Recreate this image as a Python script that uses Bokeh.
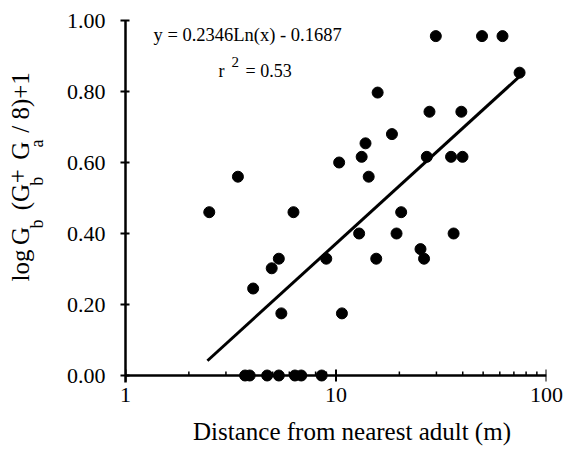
import numpy as np
from bokeh.plotting import figure
from bokeh.layouts import row, column
from bokeh.models import Range1d, FixedTicker, Label, Span, PrintfTickFormatter
from bokeh.embed import file_html
from bokeh.resources import INLINE

# ---------------- data ----------------
distance = [2.50, 3.42, 6.28, 4.04, 4.95, 5.35, 5.50, 8.99, 10.35, 10.67,
            12.88, 13.24, 13.81, 14.30, 15.77, 15.53, 18.44, 19.39, 20.4, 25.2,
            26.2, 27.0, 27.8, 29.8, 35.2, 36.2, 39.9, 39.4, 49.4, 61.8, 74.5,
            3.70, 3.89, 4.71, 5.35, 6.38, 6.84, 8.55]
response = [0.460, 0.560, 0.460, 0.245, 0.302, 0.329, 0.175, 0.329, 0.600, 0.175,
            0.400, 0.616, 0.654, 0.560, 0.797, 0.329, 0.680, 0.400, 0.460, 0.356,
            0.329, 0.616, 0.743, 0.956, 0.616, 0.400, 0.616, 0.743, 0.956, 0.956, 0.853,
            0.0, 0.0, 0.0, 0.0, 0.0, 0.0, 0.0]

fit_a = 0.2346
fit_b = -0.1687
fit_x = [2.45, 74.5]
fit_y = [fit_a * np.log(v) + fit_b for v in fit_x]

x_major = [1, 10, 100]
x_minor = [2, 3, 4, 5, 6, 7, 8, 9, 20, 30, 40, 50, 60, 70, 80, 90]
x_tick_labels = ["1", "10", "100"]
y_ticks = [0.0, 0.2, 0.4, 0.6, 0.8, 1.0]
y_tick_labels = ["0.00", "0.20", "0.40", "0.60", "0.80", "1.00"]

eq_text = "y = 0.2346Ln(x) - 0.1687"
x_title = "Distance from nearest adult (m)"

# ---------------- layout ----------------
TOTAL_W, TOTAL_H = 563, 446
LW = 60                # strip holding the y title
XT_H = 30              # strip holding the x title
PH = TOTAL_H - XT_H    # main figure height
W = TOTAL_W - LW       # main figure width
FL, FR = 125, 546      # frame left/right in picture pixels
BT = 20
PLOT_H = 355           # pixels for y from 0 to 1
EXT = 7                # frame extension below y = 0
BB = PH - BT - PLOT_H - EXT
FONT = "Liberation Serif"
Y0 = BT + PLOT_H
SHIFT = 0.36           # label anchor sits this many em above the baseline


def dx(px):
    return 10 ** (2.0 * (px - FL) / (FR - FL))


def dy(py):
    return (Y0 - py) / PLOT_H


def fpx(size):
    return float(size.replace("px", ""))


p = figure(width=W, height=PH, x_axis_type="log",
           x_range=Range1d(1, 100), y_range=Range1d(-EXT / PLOT_H, 1.0),
           output_backend="svg", toolbar_location=None,
           min_border_left=FL - LW, min_border_right=TOTAL_W - FR,
           min_border_top=BT, min_border_bottom=BB)
p.grid.visible = False
p.outline_line_color = None
p.background_fill_color = "white"
p.border_fill_color = "white"

# y axis
ya = p.yaxis[0]
ya.ticker = FixedTicker(ticks=y_ticks)
ya.formatter = PrintfTickFormatter(format="%.2f")
ya.major_label_overrides = {t: l for t, l in zip(y_ticks, y_tick_labels)}
ya.axis_line_width = 2.5
ya.axis_line_color = "black"
ya.major_tick_line_width = 2
ya.major_tick_line_color = "black"
ya.major_tick_in = 4
ya.major_tick_out = 5
ya.minor_tick_line_color = None
ya.major_label_standoff = 15
ya.major_label_text_font = FONT
ya.major_label_text_font_size = "22px"
ya.major_label_text_color = "black"

# x axis (labels only; line & ticks drawn at y = 0)
xa = p.xaxis[0]
xa.ticker = FixedTicker(ticks=x_major, minor_ticks=x_minor)
xa.formatter = PrintfTickFormatter(format="%d")
xa.major_label_overrides = {t: l for t, l in zip(x_major, x_tick_labels)}
xa.axis_line_color = None
xa.major_tick_line_color = None
xa.minor_tick_line_color = None
xa.major_tick_in = 0
xa.major_tick_out = 0
xa.minor_tick_in = 0
xa.minor_tick_out = 0
xa.major_label_standoff = 5
xa.major_label_text_font = FONT
xa.major_label_text_font_size = "22px"
xa.major_label_text_color = "black"

p.add_layout(Span(location=0, dimension="width", line_color="black", line_width=2.5))
p.segment(x0=x_major, y0=[-6 / PLOT_H] * len(x_major), x1=x_major, y1=[6 / PLOT_H] * len(x_major),
          line_color="black", line_width=2)
p.segment(x0=x_minor, y0=[0] * len(x_minor), x1=x_minor, y1=[4 / PLOT_H] * len(x_minor),
          line_color="black", line_width=1.5)

# data
p.line(fit_x, fit_y, line_color="black", line_width=3)
p.scatter(distance, response, size=11, fill_color="black", line_color="black")


def lab(fig, x, y, text, size, angle=0.0, align="left"):
    fig.add_layout(Label(x=x, y=y, text=text, text_font=FONT,
                         text_font_size=size, text_color="black", angle=angle,
                         text_align=align, text_baseline="alphabetic"))


def hlab(px, base_py, text, size):
    # horizontal text inside the plot frame; base_py = baseline in picture pixels
    lab(p, dx(px), dy(base_py - SHIFT * fpx(size)), text, size)


hlab(153, 41.5, eq_text, "18.5px")
hlab(218, 77, "r", "18px")
hlab(231, 66.5, "2", "15px")
hlab(245, 77, "= 0.53", "18px")


def strip(width, height):
    f = figure(width=width, height=height, x_range=Range1d(0, width), y_range=Range1d(0, height),
               output_backend="svg", toolbar_location=None,
               x_axis_location=None, y_axis_location=None,
               min_border_left=0, min_border_right=0, min_border_top=0, min_border_bottom=0)
    f.grid.visible = False
    f.outline_line_color = None
    f.background_fill_color = "white"
    f.border_fill_color = "white"
    return f


# ---------------- y title strip ----------------
q = strip(LW, PH)
R = np.pi / 2


def vlab(base_px, start_py, text, size):
    lab(q, base_px - SHIFT * fpx(size), PH - start_py, text, size, angle=R)


for text, py in [("log", 300), ("G", 258), ("(G", 218), ("G", 160), ("/ 8)+1", 129)]:
    vlab(29, py, text, "25px")
vlab(26, 187, "+", "25px")
for text, py in [("b", 239), ("b", 190), ("a", 146)]:
    vlab(43, py, text, "18px")

# ---------------- x title strip ----------------
xt = strip(TOTAL_W, XT_H)
lab(xt, 351.5, TOTAL_H - 440 + SHIFT * 25, x_title, "25px", align="center")

layout = column(row(q, p, spacing=0), xt, spacing=0)
open("out.html", "w").write(file_html(layout, INLINE))
